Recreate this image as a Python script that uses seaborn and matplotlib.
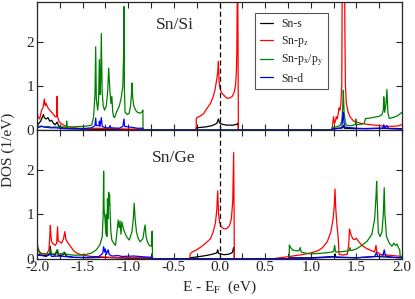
import numpy as np
import pandas as pd
import matplotlib
matplotlib.use("Agg")
import matplotlib.pyplot as plt
import seaborn as sns
from matplotlib.ticker import MultipleLocator, FormatStrFormatter

# ---- Sn/Si panel ----
si_s_e = [-2.00, -1.98, -1.96, -1.94, -1.93, -1.92, -1.90, -1.88, -1.86, -1.84, -1.82, -1.80, -1.78, -1.76,
          -1.72, -1.65, -1.50, -1.20, -0.84, -0.838,
          -0.256, -0.254, -0.15, -0.08, -0.03, -0.012, 0.0, 0.03, 0.08, 0.15, 0.19, 0.20, 0.204, 0.206,
          1.232, 1.235, 1.35, 1.36, 1.37, 1.50, 1.80, 2.00]
si_s_dos = [0.10, 0.15, 0.20, 0.30, 0.35, 0.28, 0.25, 0.28, 0.20, 0.22, 0.15, 0.12, 0.18, 0.08,
            0.05, 0.03, 0.02, 0.01, 0.01, 0.0,
            0.0, 0.05, 0.07, 0.10, 0.15, 0.25, 0.16, 0.13, 0.11, 0.11, 0.13, 0.15, 0.15, 0.0,
            0.0, 0.02, 0.05, 0.10, 0.04, 0.03, 0.04, 0.03]

si_pz_e = [-2.00, -1.99, -1.97, -1.95, -1.935, -1.92, -1.91, -1.90, -1.88, -1.86, -1.84, -1.82, -1.80,
           -1.785, -1.78, -1.775, -1.76, -1.74, -1.70, -1.65, -1.55, -1.45, -1.35, -1.20, -1.00, -0.85, -0.84,
           -0.256, -0.254, -0.20, -0.17, -0.15, -0.10, -0.07, -0.05, -0.03, -0.02, -0.012, -0.005, 0.005,
           0.02, 0.05, 0.08, 0.11, 0.14, 0.16, 0.175, 0.185, 0.19, 0.195, 0.20, 0.205, 0.207,
           1.231, 1.233, 1.24, 1.25, 1.26, 1.27, 1.28, 1.29, 1.30, 1.31, 1.32, 1.33, 1.34, 1.345, 1.36,
           1.37, 1.375, 1.38, 1.39, 1.41, 1.43, 1.47, 1.55, 1.65, 1.75, 1.85, 1.95, 2.00]
si_pz_dos = [0.45, 0.30, 0.25, 0.45, 0.50, 0.70, 0.55, 0.60, 0.50, 0.45, 0.40, 0.35, 0.30,
             0.30, 0.76, 0.30, 0.20, 0.15, 0.10, 0.07, 0.04, 0.03, 0.04, 0.03, 0.02, 0.02, 0.0,
             0.0, 0.27, 0.33, 0.38, 0.45, 0.60, 0.75, 0.90, 1.15, 1.30, 1.55, 1.10, 0.95,
             0.85, 0.78, 0.72, 0.72, 0.76, 0.85, 1.00, 1.30, 1.80, 3.20, 3.20, 1.00, 0.0,
             0.0, 0.03, 0.12, 0.30, 0.15, 0.20, 0.30, 0.25, 0.35, 0.50, 0.45, 0.60, 1.00, 3.50, 3.00,
             3.50, 2.00, 1.00, 0.60, 0.40, 0.30, 0.20, 0.15, 0.12, 0.10, 0.08, 0.09, 0.12]

si_pxy_e = [-2.00, -1.98, -1.95, -1.92, -1.88, -1.84, -1.80, -1.76, -1.72, -1.68, -1.675, -1.67, -1.665,
            -1.64, -1.60, -1.55, -1.50, -1.45, -1.40, -1.38, -1.365, -1.357, -1.35, -1.335, -1.325,
            -1.317, -1.31, -1.303, -1.295, -1.287, -1.275, -1.26, -1.24, -1.225, -1.215, -1.20, -1.19,
            -1.18, -1.17, -1.16, -1.15, -1.13, -1.10, -1.08, -1.06, -1.052, -1.047, -1.042, -1.035,
            -1.01, -0.99, -0.975, -0.965, -0.959, -0.952, -0.94, -0.92, -0.90, -0.87, -0.845, -0.840,
            -0.838, 1.231, 1.235, 1.28, 1.32, 1.34, 1.35, 1.357, 1.365, 1.38, 1.40, 1.45, 1.488, 1.493,
            1.50, 1.55, 1.585, 1.60, 1.65, 1.70, 1.75, 1.78, 1.795, 1.80, 1.81, 1.825, 1.835, 1.845,
            1.86, 1.90, 1.95, 2.00]
si_pxy_dos = [0.10, 0.08, 0.09, 0.07, 0.08, 0.06, 0.07, 0.06, 0.07, 0.06, 0.20, 0.06, 0.07,
              0.07, 0.07, 0.08, 0.08, 0.09, 0.11, 0.30, 0.80, 1.88, 0.70, 0.45, 0.70,
              1.59, 0.80, 1.10, 2.18, 0.90, 0.55, 0.45, 0.55, 0.90, 1.40, 0.85, 0.60,
              0.76, 0.40, 0.30, 0.28, 0.40, 0.53, 0.70, 0.98, 1.60, 2.79, 0.90, 0.40,
              0.35, 0.38, 0.55, 0.80, 1.06, 0.75, 0.55, 0.45, 0.40, 0.38, 0.42, 0.45,
              0.0, 0.0, 0.05, 0.07, 0.10, 0.20, 0.50, 0.90, 0.40, 0.15, 0.10, 0.10, 0.12, 0.25,
              0.12, 0.13, 0.15, 0.26, 0.27, 0.29, 0.31, 0.35, 0.45, 0.75, 0.40, 0.60, 0.92, 0.40,
              0.26, 0.28, 0.32, 0.40]

si_d_e = [-2.00, -1.95, -1.90, -1.85, -1.80, -1.70, -1.50, -1.40, -1.365, -1.357, -1.35, -1.32, -1.317,
          -1.31, -1.295, -1.285, -1.25, -1.21, -1.20, -1.19, -1.10, -1.06, -1.047, -1.04, -0.96, -0.90,
          -0.84, -0.838, 1.231, 1.233, 1.34, 1.35, 1.357, 1.365, 1.38, 1.45, 1.50, 1.60, 1.79, 1.80,
          1.81, 1.835, 1.85, 2.00]
si_d_dos = [0.05, 0.08, 0.06, 0.05, 0.05, 0.03, 0.03, 0.05, 0.10, 0.27, 0.10, 0.10, 0.20,
            0.08, 0.28, 0.08, 0.05, 0.05, 0.10, 0.05, 0.04, 0.08, 0.25, 0.08, 0.06, 0.04,
            0.04, 0.0, 0.0, 0.02, 0.05, 0.28, 0.40, 0.15, 0.06, 0.05, 0.04, 0.03, 0.04, 0.12,
            0.04, 0.10, 0.03, 0.02]

# ---- Sn/Ge panel ----
ge_s_e = [-2.00, -1.95, -1.90, -1.86, -1.854, -1.848, -1.80, -1.775, -1.768, -1.72, -1.695, -1.68,
          -1.60, -1.45, -1.27, -1.00, -0.734, -0.733,
          -0.324, -0.323, -0.25, -0.15, -0.08, -0.03, -0.02, -0.01, 0.05, 0.10, 0.14, 0.155, 0.161, 0.163,
          0.764, 0.765, 1.00, 1.26, 1.266, 1.275, 1.50, 1.72, 1.80, 2.00]
ge_s_dos = [0.10, 0.08, 0.07, 0.10, 0.28, 0.10, 0.08, 0.20, 0.07, 0.08, 0.12, 0.06,
            0.03, 0.02, 0.03, 0.01, 0.01, 0.0,
            0.0, 0.02, 0.04, 0.07, 0.10, 0.13, 0.20, 0.12, 0.09, 0.10, 0.14, 0.25, 0.25, 0.0,
            0.0, 0.02, 0.02, 0.05, 0.10, 0.03, 0.02, 0.05, 0.04, 0.02]

ge_pz_e = [-2.00, -1.99, -1.97, -1.93, -1.89, -1.87, -1.86, -1.854, -1.847, -1.84, -1.82, -1.80,
           -1.785, -1.775, -1.768, -1.75, -1.73, -1.71, -1.695, -1.685, -1.67, -1.64, -1.60, -1.56,
           -1.50, -1.40, -1.30, -1.20, -1.00, -0.80, -0.735, -0.734,
           -0.324, -0.323, -0.30, -0.25, -0.20, -0.15, -0.10, -0.07, -0.045, -0.03, -0.02, -0.01, 0.0,
           0.02, 0.05, 0.08, 0.11, 0.13, 0.145, 0.155, 0.16, 0.162,
           0.60, 0.62, 0.70, 0.80, 0.90, 1.00, 1.08, 1.13, 1.18, 1.22, 1.245, 1.258, 1.266, 1.272,
           1.285, 1.30, 1.31, 1.35, 1.40, 1.415, 1.425, 1.44, 1.46, 1.48, 1.50, 1.52, 1.56, 1.62,
           1.68, 1.70, 1.715, 1.725, 1.76, 1.85, 1.95, 2.00]
ge_pz_dos = [0.45, 0.20, 0.12, 0.10, 0.12, 0.20, 0.50, 0.75, 0.50, 0.38, 0.33, 0.30,
             0.35, 0.72, 0.40, 0.38, 0.35, 0.45, 0.61, 0.45, 0.38, 0.30, 0.18, 0.12,
             0.08, 0.05, 0.04, 0.03, 0.02, 0.02, 0.02, 0.0,
             0.0, 0.10, 0.15, 0.20, 0.27, 0.35, 0.45, 0.60, 0.80, 1.10, 1.53, 1.00, 0.82,
             0.72, 0.67, 0.68, 0.75, 0.90, 1.30, 2.39, 1.00, 0.0,
             0.0, 0.01, 0.03, 0.06, 0.09, 0.13, 0.18, 0.25, 0.38, 0.60, 0.90, 1.20, 1.57, 1.20,
             0.80, 0.50, 0.10, 0.08, 0.10, 0.30, 0.67, 0.55, 0.45, 0.43, 0.46, 0.40, 0.30, 0.22,
             0.17, 0.15, 0.30, 0.15, 0.10, 0.08, 0.06, 0.05]

ge_pxy_e = [-2.00, -1.99, -1.97, -1.95, -1.90, -1.86, -1.85, -1.84, -1.80, -1.78, -1.76, -1.72, -1.70,
            -1.68, -1.60, -1.52, -1.45, -1.40, -1.35, -1.31, -1.285, -1.275, -1.27, -1.265, -1.255,
            -1.245, -1.24, -1.235, -1.228, -1.222, -1.215, -1.21, -1.205, -1.198, -1.19, -1.18, -1.16,
            -1.14, -1.11, -1.10, -1.09, -1.08, -1.07, -1.05, -1.02, -0.99, -0.96, -0.945, -0.935,
            -0.925, -0.91, -0.89, -0.87, -0.84, -0.825, -0.815, -0.805, -0.79, -0.77, -0.745, -0.738,
            -0.734, 0.764, 0.765, 0.78, 0.80, 0.83, 0.87, 0.885, 0.895, 0.95, 1.00, 1.10, 1.20, 1.25,
            1.262, 1.272, 1.35, 1.42, 1.43, 1.44, 1.50, 1.56, 1.62, 1.67, 1.70, 1.715, 1.722, 1.73,
            1.74, 1.76, 1.78, 1.795, 1.805, 1.812, 1.83, 1.86, 1.89, 1.91, 1.93, 1.945, 1.96, 1.975,
            1.98, 2.00]
ge_pxy_dos = [0.30, 0.25, 0.15, 0.12, 0.10, 0.12, 0.20, 0.10, 0.12, 0.20, 0.10, 0.12, 0.15,
              0.10, 0.08, 0.08, 0.10, 0.13, 0.20, 0.32, 0.50, 1.00, 1.97, 1.10, 0.90,
              0.55, 1.00, 0.50, 1.35, 0.90, 1.50, 1.20, 1.45, 1.00, 0.60, 0.42, 0.35,
              0.30, 0.87, 0.70, 0.85, 0.55, 0.83, 0.65, 0.50, 0.42, 0.60, 0.90, 1.25,
              0.90, 0.60, 0.45, 0.38, 0.45, 0.65, 0.76, 0.50, 0.38, 0.30, 0.28, 0.62,
              0.0, 0.0, 0.31, 0.25, 0.20, 0.18, 0.18, 0.25, 0.15, 0.12, 0.11, 0.12, 0.14, 0.16,
              0.30, 0.15, 0.16, 0.18, 0.25, 0.18, 0.22, 0.30, 0.40, 0.55, 0.90, 1.40, 1.74, 1.20,
              0.60, 0.50, 0.60, 1.00, 1.60, 1.00, 0.50, 0.35, 0.28, 0.35, 0.30, 0.33, 0.25, 0.20,
              0.05, 0.04]

ge_d_e = [-2.00, -1.95, -1.90, -1.854, -1.84, -1.77, -1.70, -1.60, -1.45, -1.32, -1.28, -1.27, -1.26,
          -1.25, -1.24, -1.22, -1.21, -1.18, -1.11, -1.07, -0.935, -0.82, -0.735, -0.734,
          0.764, 0.765, 1.00, 1.266, 1.50, 1.70, 1.72, 1.735, 1.79, 1.805, 1.82, 1.90, 2.00]
ge_d_dos = [0.08, 0.07, 0.05, 0.10, 0.05, 0.06, 0.05, 0.03, 0.03, 0.05, 0.12, 0.27, 0.15,
            0.22, 0.10, 0.20, 0.10, 0.06, 0.07, 0.05, 0.06, 0.04, 0.03, 0.0,
            0.0, 0.01, 0.01, 0.04, 0.02, 0.05, 0.14, 0.05, 0.06, 0.20, 0.06, 0.03, 0.02]

orbitals = ["Sn-s", "Sn-pz", "Sn-pxy", "Sn-d"]
labels = ["Sn-s", "Sn-p$_\\mathrm{z}$", "Sn-p$_\\mathrm{x}$/p$_\\mathrm{y}$", "Sn-d"]
colors = ["black", "red", "green", "blue"]


def to_frame(series):
    parts = []
    for orb, (e, dos) in zip(orbitals, series):
        parts.append(pd.DataFrame({"E": e, "DOS": dos, "orb": orb}))
    return pd.concat(parts, ignore_index=True)


si = to_frame([(si_s_e, si_s_dos), (si_pz_e, si_pz_dos), (si_pxy_e, si_pxy_dos), (si_d_e, si_d_dos)])
ge = to_frame([(ge_s_e, ge_s_dos), (ge_pz_e, ge_pz_dos), (ge_pxy_e, ge_pxy_dos), (ge_d_e, ge_d_dos)])

sns.set_style("ticks")
plt.rcParams["font.family"] = ["Liberation Serif", "DejaVu Serif"]
plt.rcParams["mathtext.fontset"] = "stix"
plt.rcParams["axes.unicode_minus"] = False

fig = plt.figure(figsize=(4.15, 2.99), dpi=100)
ax1 = fig.add_axes([0.0892, 0.5652, 0.8795, 0.4291])
ax2 = fig.add_axes([0.0892, 0.1348, 0.8795, 0.4304])

for ax, df, name, pos in [(ax1, si, "Sn/Si", (0.378, 0.82)), (ax2, ge, "Sn/Ge", (0.375, 0.786))]:
    sns.lineplot(data=df, x="E", y="DOS", hue="orb", hue_order=orbitals,
                 palette=dict(zip(orbitals, colors)), estimator=None, sort=False,
                 lw=0.9, legend=False, ax=ax)
    ax.axvline(0, color="black", ls="--", lw=0.9, dashes=(4, 2.5))
    ax.set_xlim(-2.0, 2.0)
    ax.set_ylim(0, 2.9)
    ax.xaxis.set_major_locator(MultipleLocator(0.5))
    ax.xaxis.set_minor_locator(MultipleLocator(0.25))
    ax.yaxis.set_major_locator(MultipleLocator(1))
    ax.xaxis.set_major_formatter(FormatStrFormatter("%.1f"))
    ax.tick_params(which="both", direction="in", top=True, right=True, length=4, width=0.8,
                   labelsize=11, pad=2)
    for sp in ax.spines.values():
        sp.set_linewidth(0.9)
    ax.set_ylabel("")
    ax.set_xlabel("")
    ax.text(pos[0], pos[1], name, transform=ax.transAxes, ha="center", va="center", fontsize=12.5)

ax1.tick_params(labelbottom=False)
ax2.set_xlabel("E - E$_\\mathrm{F}$  (eV)", fontsize=11, labelpad=3)
fig.text(0.02, 0.5, "DOS (1/eV)", rotation=90, ha="center", va="center", fontsize=11)

handles = ax1.lines[:4]
leg = ax1.legend(handles, labels, loc="upper left", bbox_to_anchor=(0.597, 0.912), borderaxespad=0,
                 fontsize=8.5, handlelength=1.1, handletextpad=0.7, labelspacing=0.35,
                 fancybox=False, framealpha=1, edgecolor="#555555", borderpad=0.4)
leg.get_frame().set_linewidth(0.8)

fig.savefig("out.png", dpi=100)
